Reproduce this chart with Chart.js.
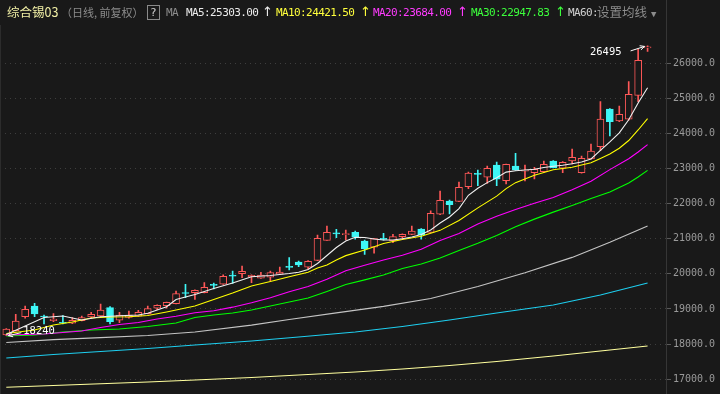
<!DOCTYPE html>
<html>
<head>
<meta charset="utf-8">
<title>综合锡03 日线</title>
<script src="https://cdn.jsdelivr.net/npm/chart.js@4.4.1/dist/chart.umd.min.js"></script>
<style>
  html, body { margin: 0; padding: 0; background: #191919; }
  #wrap { position: relative; width: 720px; height: 394px; overflow: hidden; background: #191919; }
  #chart { position: absolute; left: 0; top: 0; }
  #header { position: absolute; left: 0; top: 0; width: 720px; height: 25px;
            font-family: 'DejaVu Sans Mono', monospace; font-size: 11px; letter-spacing: -0.6px; }
  #header span { position: absolute; top: 6px; line-height: 14px; white-space: nowrap; }
  #header .cjk { font-family: 'Noto Sans CJK SC', sans-serif; letter-spacing: 0; top: 5px; }
  #header .arr { font-family: 'DejaVu Sans', sans-serif; font-size: 13px; letter-spacing: 0; top: 5px; }
  #header .q { top: 5px; width: 11px; height: 13px; border: 1px solid #8a8a8a; color: #cfcfcf;
               text-align: center; line-height: 13px; letter-spacing: 0; font-family: 'DejaVu Sans', sans-serif; }
  #axisLine { position: absolute; left: 666px; top: 0; width: 1px; height: 394px; background: #363636; }
  #leftLine { position: absolute; left: 0; top: 25px; width: 1px; height: 369px; background: #2c2c2c; }
</style>
</head>
<body>
<div id="wrap">
  <canvas id="chart" width="720" height="394"></canvas>
  <div id="leftLine"></div>
  <div id="axisLine"></div>
  <div id="header">
    <span class="cjk" style="left:7px;color:#f2f0a6;font-size:12.5px;">综合锡03</span>
    <span class="cjk" style="left:61px;color:#8c8c8c;font-size:11px;">（日线, 前复权）</span>
    <span class="q" style="left:147px;">?</span>
    <span style="left:166px;color:#8c8c8c;">MA</span>
    <span style="left:186px;color:#ececec;">MA5:25303.00</span>
    <span class="arr" style="left:262px;color:#ececec;">↑</span>
    <span style="left:276px;color:#ffff3c;">MA10:24421.50</span>
    <span class="arr" style="left:360px;color:#ffff3c;">↑</span>
    <span style="left:373px;color:#ff3cff;">MA20:23684.00</span>
    <span class="arr" style="left:457px;color:#ff3cff;">↑</span>
    <span style="left:471px;color:#3cff3c;">MA30:22947.83</span>
    <span class="arr" style="left:555px;color:#3cff3c;">↑</span>
    <span style="left:568px;color:#cfcfcf;">MA60:</span>
    <span class="cjk" style="left:597px;color:#8c8c8c;font-size:12.5px;">设置均线</span>
    <span style="left:651px;color:#8c8c8c;font-size:9px;top:7px;">▼</span>
  </div>
</div>
<script>
// Daily candles, oldest first (one entry per trading day)
const opens = [
  18259, 18382, 18781, 19085, 18790, 18667, 18605, 18593, 18667, 18772,
  18800, 19037, 18678, 18763, 18792, 18866, 19020, 19094, 19151, 19460,
  19464, 19464, 19690, 19704, 19950, 20006, 19920, 19875, 19903, 19989,
  20200, 20339, 20188, 20387, 20957, 21160, 21120, 21185, 20937, 20758,
  20995, 20946, 21060, 21128, 21279, 21185, 21698, 22077, 22068, 22484,
  22850, 22752, 23103, 22655, 23074, 22930, 22883, 22912, 23217, 23009,
  23217, 22883, 23274, 23624, 24698, 24356, 24405, 25088, 26440
];
const highs = [
  18440, 18849, 19085, 19162, 18829, 18866, 18809, 18752, 18800, 18906,
  19142, 19066, 18906, 18943, 18963, 19085, 19115, 19200, 19513, 19704,
  19545, 19749, 19740, 19970, 20083, 20225, 19975, 20046, 20083, 20197,
  20462, 20368, 20380, 21108, 21365, 21271, 21250, 21222, 20966, 21010,
  21157, 21128, 21140, 21365, 21290, 21800, 22362, 22100, 22618, 22903,
  22960, 23074, 23188, 23130, 23436, 23103, 23037, 23217, 23230, 23200,
  23558, 23359, 23701, 24906, 24710, 24783, 25476, 26399, 26495
];
const lows = [
  18240, 18370, 18735, 18781, 18573, 18638, 18573, 18585, 18660, 18735,
  18790, 18573, 18610, 18735, 18785, 18860, 18980, 19020, 19145, 19322,
  19276, 19460, 19570, 19700, 19732, 19892, 19750, 19870, 19806, 19985,
  20111, 20205, 20140, 20380, 20950, 21031, 20965, 20986, 20558, 20587,
  20960, 20889, 21000, 21120, 20986, 21180, 21690, 21707, 22060, 22427,
  22513, 22581, 22513, 22561, 22950, 22646, 22704, 22890, 23020, 22883,
  23131, 22870, 23265, 23510, 23929, 24340, 24380, 24906, 26340
];
const closes = [
  18430, 18658, 18991, 18858, 18772, 18715, 18593, 18678, 18752, 18849,
  18972, 18638, 18829, 18829, 18906, 19009, 19105, 19191, 19436, 19440,
  19533, 19618, 19672, 19932, 19935, 20074, 19960, 19969, 20034, 20054,
  20185, 20254, 20359, 21014, 21185, 21140, 21135, 21043, 20709, 21003,
  20985, 21060, 21128, 21222, 21117, 21726, 22097, 21972, 22467, 22875,
  22835, 23009, 22695, 23123, 22960, 22945, 22980, 23123, 23026, 23180,
  23322, 23293, 23501, 24413, 24336, 24547, 25117, 26085, 26456
];

// Moving averages as [day index, value]
const ma5 = [[0,18273],[2,18516],[4,18758],[6,18800],[8,18687],[10,18781],[12,18809],[14,18829],[15,18877],[16,18971],[17,19066],[18,19271],[20,19413],[22,19584],[24,19741],[26,19920],[28,19955],[30,20011],[31,20046],[32,20125],[33,20296],[34,20524],[35,20752],[36,20937],[37,21043],[38,21037],[39,20994],[40,20966],[41,20966],[42,21003],[43,21051],[44,21122],[45,21251],[46,21450],[47,21620],[48,21860],[49,22240],[50,22440],[51,22600],[52,22740],[53,22900],[54,22940],[55,22960],[56,22980],[57,23031],[58,23068],[59,23094],[60,23137],[61,23188],[62,23274],[63,23520],[64,23760],[65,24016],[66,24390],[67,24870],[68,25303]];
const ma10 = [[0,18302],[3,18402],[5,18545],[7,18630],[9,18744],[11,18772],[13,18778],[15,18815],[17,18915],[18,18970],[20,19085],[22,19271],[24,19456],[26,19655],[28,19784],[30,19920],[32,20046],[33,20168],[34,20254],[35,20396],[36,20520],[38,20681],[40,20865],[42,20980],[44,21070],[46,21240],[48,21520],[50,21880],[52,22215],[53,22430],[54,22600],[56,22810],[58,22965],[60,23040],[62,23165],[63,23290],[64,23414],[65,23580],[66,23800],[67,24100],[68,24422]];
const ma20 = [[0,18259],[4,18288],[8,18373],[10,18473],[12,18558],[14,18616],[16,18715],[18,18792],[20,18895],[22,18952],[24,19052],[26,19180],[28,19322],[30,19490],[32,19640],[34,19850],[36,20090],[38,20245],[40,20395],[42,20530],[44,20700],[46,20950],[48,21150],[50,21420],[52,21640],[54,21835],[56,22010],[58,22177],[60,22400],[62,22640],[64,22970],[66,23280],[67,23473],[68,23684]];
const ma30 = [[0,18231],[3,18259],[6,18345],[9,18402],[12,18430],[15,18501],[18,18601],[20,18758],[22,18829],[24,18886],[26,18971],[28,19085],[30,19199],[32,19313],[34,19500],[36,19700],[38,19830],[40,19969],[42,20154],[44,20282],[46,20453],[48,20667],[50,20870],[52,21095],[54,21340],[56,21560],[58,21760],[60,21950],[62,22150],[64,22335],[66,22592],[67,22761],[68,22948]];
const ma60 = [[0,18046],[5,18126],[10,18183],[15,18245],[20,18345],[26,18540],[30,18700],[35,18890],[40,19075],[45,19300],[50,19640],[55,20030],[60,20470],[64,20900],[68,21365]];
const ma120 = [[0,17604],[5,17704],[10,17789],[15,17875],[20,17974],[26,18089],[31,18203],[37,18345],[42,18501],[47,18686],[52,18886],[58,19114],[63,19399],[68,19741]];
const ma250 = [[0,16769],[5,16820],[10,16872],[15,16920],[20,16977],[26,17049],[31,17120],[37,17205],[42,17291],[47,17391],[52,17505],[58,17661],[63,17803],[68,17946]];

// Price axis ticks
const yTicks = [17000, 18000, 19000, 20000, 21000, 22000, 23000, 24000, 25000, 26000];

const BG = '#191919';
const UP = '#ff5858';
const DOWN = '#3ef6f6';

const isUp = closes.map((c, i) => c >= opens[i]);

function maLine(label, points, color) {
  return {
    type: 'line',
    label,
    data: points.map(([i, v]) => ({ x: i, y: v })),
    borderColor: color,
    borderWidth: 1.1,
    pointRadius: 0,
    tension: 0,
    order: 0
  };
}

function drawArrow(ctx, x1, y1, x2, y2) {
  const a = Math.atan2(y2 - y1, x2 - x1);
  ctx.beginPath();
  ctx.moveTo(x1, y1);
  ctx.lineTo(x2, y2);
  ctx.moveTo(x2, y2);
  ctx.lineTo(x2 - 5 * Math.cos(a - 0.45), y2 - 5 * Math.sin(a - 0.45));
  ctx.moveTo(x2, y2);
  ctx.lineTo(x2 - 5 * Math.cos(a + 0.45), y2 - 5 * Math.sin(a + 0.45));
  ctx.stroke();
}

// Marks the highest high and lowest low like the trading terminal does
const extremeLabels = {
  id: 'extremeLabels',
  afterDatasetsDraw(chart) {
    const { ctx, scales: { x, y } } = chart;
    let hi = 0, lo = 0;
    for (let i = 1; i < highs.length; i++) {
      if (highs[i] > highs[hi]) hi = i;
      if (lows[i] < lows[lo]) lo = i;
    }
    ctx.save();
    ctx.fillStyle = '#ffffff';
    ctx.strokeStyle = '#ffffff';
    ctx.lineWidth = 1;
    ctx.font = '10.5px "DejaVu Sans Mono"';
    ctx.textBaseline = 'middle';

    const hx = x.getPixelForValue(hi), hy = y.getPixelForValue(highs[hi]);
    ctx.textAlign = 'right';
    ctx.fillText(String(highs[hi]), hx - 26, hy + 6.5);
    drawArrow(ctx, hx - 17, hy + 5, hx - 3, hy + 0.5);

    const lx = x.getPixelForValue(lo), ly = y.getPixelForValue(lows[lo]);
    ctx.textAlign = 'left';
    ctx.fillText(String(lows[lo]), lx + 17, ly - 4.5);
    drawArrow(ctx, lx + 15, ly - 3, lx + 2, ly);
    ctx.restore();
  }
};

const ctx = document.getElementById('chart').getContext('2d');
new Chart(ctx, {
  type: 'bar',
  data: {
    datasets: [
      maLine('MA5', ma5, '#f0f0f0'),
      maLine('MA10', ma10, '#ffff00'),
      maLine('MA20', ma20, '#ff00ff'),
      maLine('MA30', ma30, '#00ff00'),
      maLine('MA60', ma60, '#c4c4c4'),
      maLine('MA120', ma120, '#1ecff0'),
      maLine('MA250', ma250, '#ffff9e'),
      {
        label: 'body',
        data: opens.map((o, i) => ({ x: i, y: [o, closes[i]] })),
        backgroundColor: isUp.map(u => (u ? BG : DOWN)),
        borderColor: isUp.map(u => (u ? UP : DOWN)),
        borderWidth: 1,
        borderSkipped: false,
        barThickness: 7,
        minBarLength: 1,
        grouped: false,
        order: 1
      },
      {
        label: 'wick',
        data: lows.map((l, i) => ({ x: i, y: [l, highs[i]] })),
        backgroundColor: isUp.map(u => (u ? UP : DOWN)),
        borderWidth: 0,
        barThickness: 1,
        grouped: false,
        order: 2
      }
    ]
  },
  options: {
    responsive: false,
    animation: false,
    devicePixelRatio: 1,
    layout: { padding: { left: 0, right: 0, top: 31.7, bottom: 0 } },
    plugins: { legend: { display: false }, tooltip: { enabled: false } },
    scales: {
      x: { type: 'linear', min: -0.668, max: 70.06, offset: false, display: false },
      y: {
        position: 'right',
        min: 16578,
        max: 26900,
        afterBuildTicks: (scale) => {
          scale.ticks = yTicks.map(v => ({ value: v }));
        },
        afterFit: (scale) => {
          scale.width = 53;
          scale.paddingTop = 0;
          scale.paddingBottom = 0;
        },
        ticks: {
          autoSkip: false,
          padding: 2,
          color: '#9a9a9a',
          font: { family: 'DejaVu Sans Mono', size: 10 },
          callback: (v) => Number(v).toFixed(1)
        },
        grid: { color: '#3e3e3e', lineWidth: 1, tickLength: 4, tickColor: '#5a5a5a', tickBorderDash: [] },
        border: { display: false, dash: [1, 4] }
      }
    }
  },
  plugins: [extremeLabels]
});
</script>
</body>
</html>
